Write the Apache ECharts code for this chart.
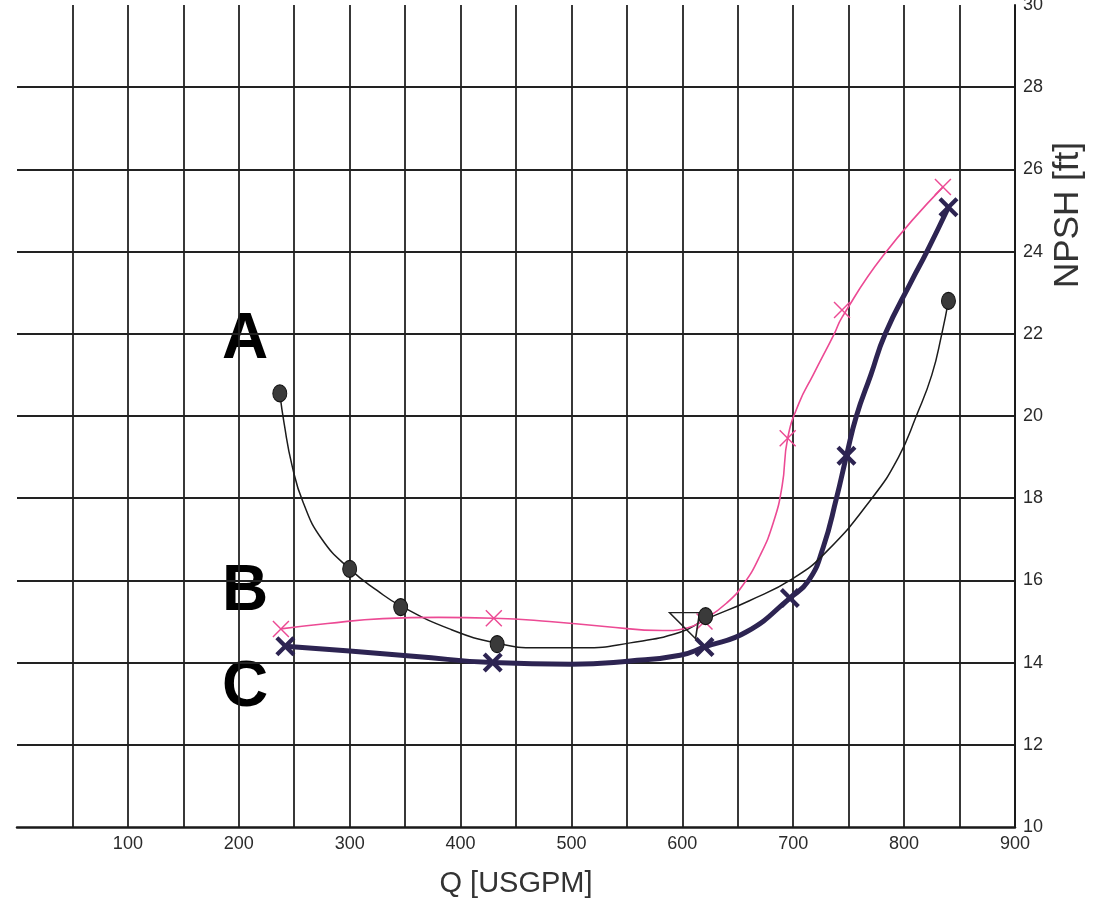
<!DOCTYPE html>
<html><head><meta charset="utf-8">
<script src="https://cdn.jsdelivr.net/npm/echarts@6/dist/echarts.min.js"></script>
<style>html,body{margin:0;padding:0;background:#fff}#c{width:1098px;height:905px}</style>
</head><body><div id="c"></div>
<script>
// Curve A (black thin line with dots)
const curveAQ = [237, 241, 248, 258, 275, 300, 325, 346, 390, 433, 470, 510, 553, 598, 621, 660, 700, 730, 771, 795, 811, 825, 834, 840];
const curveAH = [20.55, 19.8, 18.8, 17.9, 17.0, 16.28, 15.75, 15.38, 14.82, 14.47, 14.36, 14.36, 14.48, 14.74, 15.05, 15.5, 16.05, 16.7, 18.0, 19.0, 20.0, 21.0, 22.0, 22.8];
const pointsAQ = [237, 300, 346, 433, 621, 840];
const pointsAH = [20.55, 16.28, 15.35, 14.45, 15.13, 22.8];
// Curve B (pink)
const curveBQ = [238, 280, 330, 380, 430, 480, 530, 582, 605, 620, 640, 655, 670, 682, 690, 695, 705, 718, 737, 744, 781, 835];
const curveBH = [14.82, 14.95, 15.07, 15.1, 15.08, 15.0, 14.88, 14.78, 14.85, 15.05, 15.45, 15.9, 16.6, 17.4, 18.3, 19.46, 20.3, 21.0, 22.0, 22.4, 23.9, 25.57];
const pointsBQ = [238, 430, 620, 695, 744, 835];
const pointsBH = [14.82, 15.08, 15.0, 19.46, 22.58, 25.57];
// Curve C (dark thick)
const curveCQ = [242, 300, 360, 429, 500, 553, 598, 620, 658, 697, 714, 727, 739, 748, 757, 770, 783, 807, 820, 840];
const curveCH = [14.4, 14.28, 14.15, 14.0, 13.96, 14.04, 14.18, 14.38, 14.75, 15.57, 16.0, 16.8, 18.0, 19.03, 20.0, 21.0, 22.0, 23.3, 23.97, 25.08];
const pointsCQ = [242, 429, 620, 697, 748, 840];
const pointsCH = [14.4, 14.0, 14.38, 15.57, 19.03, 25.08];
// Triangle marker
const triangleQ = [602];
const triangleH = [14.9];
// Axes
const xMin = 0, xMax = 900, xStep = 50, xLabelStep = 100;
const yMin = 10, yMax = 30, yStep = 2;
const xAxisTitle = 'Q [USGPM]';
const yAxisTitle = 'NPSH [ft]';
const curveLetters = ['A', 'B', 'C'];

const pairs = (q, h) => q.map((v, i) => [v, h[i]]);
const dark = '#2d2452', pink = '#ec4a94', blk = '#1c1c1c';
const X_THICK = 'path://M0,3 L3,0 L10,7 L17,0 L20,3 L13,10 L20,17 L17,20 L10,13 L3,20 L0,17 L7,10 Z';
const X_THIN = 'path://M0,1.2 L1.2,0 L10,8.8 L18.8,0 L20,1.2 L11.2,10 L20,18.8 L18.8,20 L10,11.2 L1.2,20 L0,18.8 L8.8,10 Z';
const fontFam = "'Liberation Sans',Arial,sans-serif";

const chart = echarts.init(document.getElementById('c'), null, {renderer: 'canvas'});
chart.setOption({
  animation: false,
  backgroundColor: '#fff',
  grid: {left: 17, right: 83, top: 5, bottom: 78, containLabel: false, outerBoundsMode: 'none'},
  xAxis: {
    type: 'value', min: xMin, max: xMax, interval: xStep,
    name: xAxisTitle, nameLocation: 'middle', nameGap: 42,
    nameTextStyle: {fontSize: 29, color: '#333', fontFamily: 'Liberation Sans'},
    axisLine: {show: true, onZero: false, lineStyle: {color: '#1a1a1a', width: 2.5}},
    axisTick: {show: false},
    axisLabel: {
      fontSize: 18, color: '#2a2a2a', fontFamily: fontFam, margin: 8,
      formatter: v => (v > 0 && v % xLabelStep === 0) ? String(v) : ''
    },
    splitLine: {show: true, showMinLine: false, lineStyle: {color: '#222', width: 1.8}}
  },
  yAxis: {
    type: 'value', position: 'right', min: yMin, max: yMax, interval: yStep,
    axisLine: {show: true, onZero: false, lineStyle: {color: '#1a1a1a', width: 2}},
    axisTick: {show: false},
    axisLabel: {fontSize: 18, color: '#2a2a2a', fontFamily: fontFam, margin: 8},
    splitLine: {show: true, showMaxLine: false, showMinLine: false, lineStyle: {color: '#222', width: 1.8}}
  },
  graphic: [
    {type: 'text', x: 1068, y: 215, rotation: Math.PI / 2,
     style: {text: yAxisTitle, font: '35px Liberation Sans', fill: '#333', align: 'center', verticalAlign: 'middle'}},
    {type: 'text', x: 245, y: 340, style: {text: curveLetters[0], font: 'bold 64px Liberation Sans', fill: '#000', align: 'center', verticalAlign: 'middle'}},
    {type: 'text', x: 245, y: 592, style: {text: curveLetters[1], font: 'bold 64px Liberation Sans', fill: '#000', align: 'center', verticalAlign: 'middle'}},
    {type: 'text', x: 245, y: 688, style: {text: curveLetters[2], font: 'bold 64px Liberation Sans', fill: '#000', align: 'center', verticalAlign: 'middle'}}
  ],
  series: [
    {type: 'line', data: pairs(curveCQ, curveCH), smooth: 0.5, symbol: 'none',
     lineStyle: {color: dark, width: 5}, z: 3},
    {type: 'line', data: pairs(curveAQ, curveAH), smooth: 0.5, symbol: 'none',
     lineStyle: {color: blk, width: 1.5}, z: 4},
    {type: 'line', data: pairs(curveBQ, curveBH), smooth: 0.5, symbol: 'none',
     lineStyle: {color: pink, width: 1.6}, z: 5},
    {type: 'scatter', data: pairs(pointsCQ, pointsCH), symbol: X_THICK, symbolSize: 20,
     itemStyle: {color: dark, opacity: 1}, z: 6},
    {type: 'scatter', data: pairs(pointsBQ, pointsBH), symbol: X_THIN, symbolSize: 17,
     itemStyle: {color: pink, opacity: 1}, z: 7},
    {type: 'scatter', data: pairs(triangleQ, triangleH), symbol: 'path://M0,0 L30,0 L26,28 Z', symbolSize: [30, 26],
     itemStyle: {color: 'rgba(0,0,0,0)', borderColor: '#222', borderWidth: 1.5, opacity: 1}, z: 7},
    {type: 'scatter', data: pairs(pointsAQ, pointsAH), symbol: 'circle', symbolSize: [14, 17],
     itemStyle: {color: '#3a3a3a', borderColor: '#111', borderWidth: 1, opacity: 1}, z: 8}
  ]
});
</script></body></html>
